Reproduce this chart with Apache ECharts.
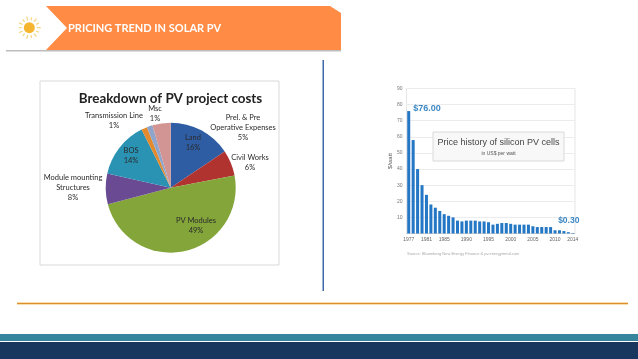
<!DOCTYPE html>
<html><head><meta charset="utf-8">
<style>html,body{margin:0;padding:0;background:#fff}#c{width:638px;height:359px}</style>
<script src="https://cdn.jsdelivr.net/npm/echarts@6/dist/echarts.min.js"></script>
</head><body><div id="c"></div>
<script>
const pieNames = ['Land','Civil Works','PV Modules','Module mounting\nStructures','BOS','Transmission Line','Msc','Prel. & Pre\nOperative Expenses'];
const pieValues = [15.6,6.4,48.9,7.6,14.1,1.45,1.4,4.55];
const pieColors = ['#2F5DA3','#B0332F','#83A53A','#6A4A92','#2A93B3','#E38A2C','#8FA5CC','#D29593'];
const years = ['1977','1978','1979','1980','1981','1982','1983','1984','1985','1986','1987','1988','1989','1990','1991','1992','1993','1994','1995','1996','1997','1998','1999','2000','2001','2002','2003','2004','2005','2006','2007','2008','2009','2010','2011','2012','2013','2014'];
const prices = [76,58,40,30,24,18,16,14,12,11,10,8,7.5,8,8,8,7.5,7.5,7,5.5,6,6.5,6.5,6,5.5,5.5,5.5,5.5,4.5,4,4,4,4,2,2,1.5,0.8,0.3];
const shownYears = ['1977','1981','1985','1990','1995','2000','2005','2010','2014'];
const labelSpots = [[193,143],[250,163],[196,226],[73,188],[131,156],[114,121],[155,114],[243,128]];

const sunRays = [];
for (let i = 0; i < 14; i++) {
  const a = i * Math.PI / 7, long = i % 2 === 0;
  sunRays.push({type:'line', z:6, shape:{x1:29.3+Math.cos(a)*7.5, y1:27.7+Math.sin(a)*7.5, x2:29.3+Math.cos(a)*(long?11.5:10.5), y2:27.7+Math.sin(a)*(long?11.5:10.5)}, style:{stroke:'#F3D57E', lineWidth:1.2}});
}
const FONT = 'Lato, "Noto Sans", sans-serif';
const chart = echarts.init(document.getElementById('c'), null, {renderer:'canvas'});
chart.setOption({
  animation:false,
  backgroundColor:'#fff',
  title:[{text:'Breakdown of PV project costs', left:165.5, top:94, textAlign:'center', textVerticalAlign:'middle', textStyle:{fontFamily:FONT, fontSize:13.4, fontWeight:'bold', color:'#222'}}],
  grid:{left:406.5, top:88.5, width:168.5, height:145, show:true, borderColor:'#e6e6e6', borderWidth:1, backgroundColor:'transparent'},
  xAxis:{type:'category', data:years, axisTick:{show:false}, axisLine:{lineStyle:{color:'#d8d8d8'}},
    axisLabel:{interval:0, fontSize:5, color:'#666', margin:4, fontFamily:'Liberation Sans', formatter:v=>shownYears.includes(v)?v:''}},
  yAxis:{type:'value', min:0, max:90, interval:10, name:'$/watt', nameLocation:'middle', nameGap:13, nameTextStyle:{fontSize:6, color:'#555', fontFamily:'Liberation Sans'},
    axisLine:{show:false}, axisTick:{show:false}, splitLine:{lineStyle:{color:'#ececec'}},
    axisLabel:{fontSize:5, color:'#777', margin:4, fontFamily:'Liberation Sans', formatter:v=>v===0?'':String(v)}},
  series:[
    {type:'pie', center:[170.7,187.7], radius:[0,65], startAngle:90, clockwise:true, silent:true,
      data:pieNames.map((n,i)=>({name:n, value:pieValues[i], itemStyle:{color:pieColors[i]}})),
      label:{show:true, position:'outside', overflow:'none', formatter:p=>p.name+'\n'+Math.round(p.value)+'%', fontFamily:FONT, fontSize:7.5, lineHeight:10, color:'#2b2b2b', align:'center'},
      labelLine:{show:false},
      labelLayout:p=>({x:labelSpots[p.dataIndex][0], y:labelSpots[p.dataIndex][1], align:'center', verticalAlign:'middle', hideOverlap:false, moveOverlap:false})
    },
    {type:'bar', barWidth:'68%', itemStyle:{color:'#2477C4'},
      data:prices.map((v,i)=>{
        const item={value:v};
        if(i===0) item.label={show:true, position:[6,-7], formatter:'$76.00', fontSize:9, fontWeight:'bold', color:'#3D88C4', fontFamily:'Liberation Sans'};
        if(i===prices.length-1) item.label={show:true, position:'top', distance:8, offset:[-4,0], formatter:'$0.30', fontSize:8.5, fontWeight:'bold', color:'#3D88C4', fontFamily:'Liberation Sans'};
        return item;
      })}
  ],
  graphic:[
    {type:'rect', z:-1, silent:true, shape:{x:40,y:81,width:239,height:184}, style:{fill:'#fff', stroke:'#d9d9d9', lineWidth:1}},
    {type:'rect', z:1, shape:{x:6,y:50,width:335,height:1.5}, style:{fill:'#bdbdbd'}},
    {type:'polygon', z:2, shape:{points:[[46,6],[330,6],[341,13],[341,50],[46,50],[67,28]]}, style:{fill:'#FF8B45'}},
    {type:'text', z:3, style:{x:68,y:28,text:'PRICING TREND IN SOLAR PV',fill:'#fff',font:'bold 11px '+FONT,verticalAlign:'middle',textAlign:'left'}},
    ...sunRays,
    {type:'circle', z:7, shape:{cx:29.3,cy:27.7,r:5.5}, style:{fill:'#F5B52E'}},
    {type:'rect', z:1, shape:{x:322.5,y:60,width:1.5,height:231}, style:{fill:'#3F68A8'}},
    {type:'rect', z:1, shape:{x:17,y:302,width:611,height:3}, style:{fill:'#F7DDB0'}},
    {type:'rect', z:2, shape:{x:17,y:303,width:611,height:1}, style:{fill:'#DC8F2C'}},
    {type:'rect', z:1, shape:{x:0,y:334,width:638,height:7}, style:{fill:'#37849D'}},
    {type:'rect', z:1, shape:{x:0,y:342,width:638,height:17}, style:{fill:'#17375E'}},
    {type:'rect', z:5, shape:{x:433,y:132,width:131,height:29}, style:{fill:'#F8F8F8',stroke:'#DADADA',lineWidth:1}},
    {type:'text', z:6, style:{x:498.5,y:143,text:'Price history of silicon PV cells',fill:'#444',font:'9px "Liberation Sans"',textAlign:'center',verticalAlign:'middle'}},
    {type:'text', z:6, style:{x:498.5,y:154,text:'in US$ per watt',fill:'#555',font:'5px "Liberation Sans"',textAlign:'center',verticalAlign:'middle'}},
    {type:'text', z:6, style:{x:407,y:253.5,text:'Source: Bloomberg New Energy Finance & pv.energytrend.com',fill:'#aaa',font:'4px "Liberation Sans"',textAlign:'left',verticalAlign:'middle'}}
  ]
});
</script></body></html>
